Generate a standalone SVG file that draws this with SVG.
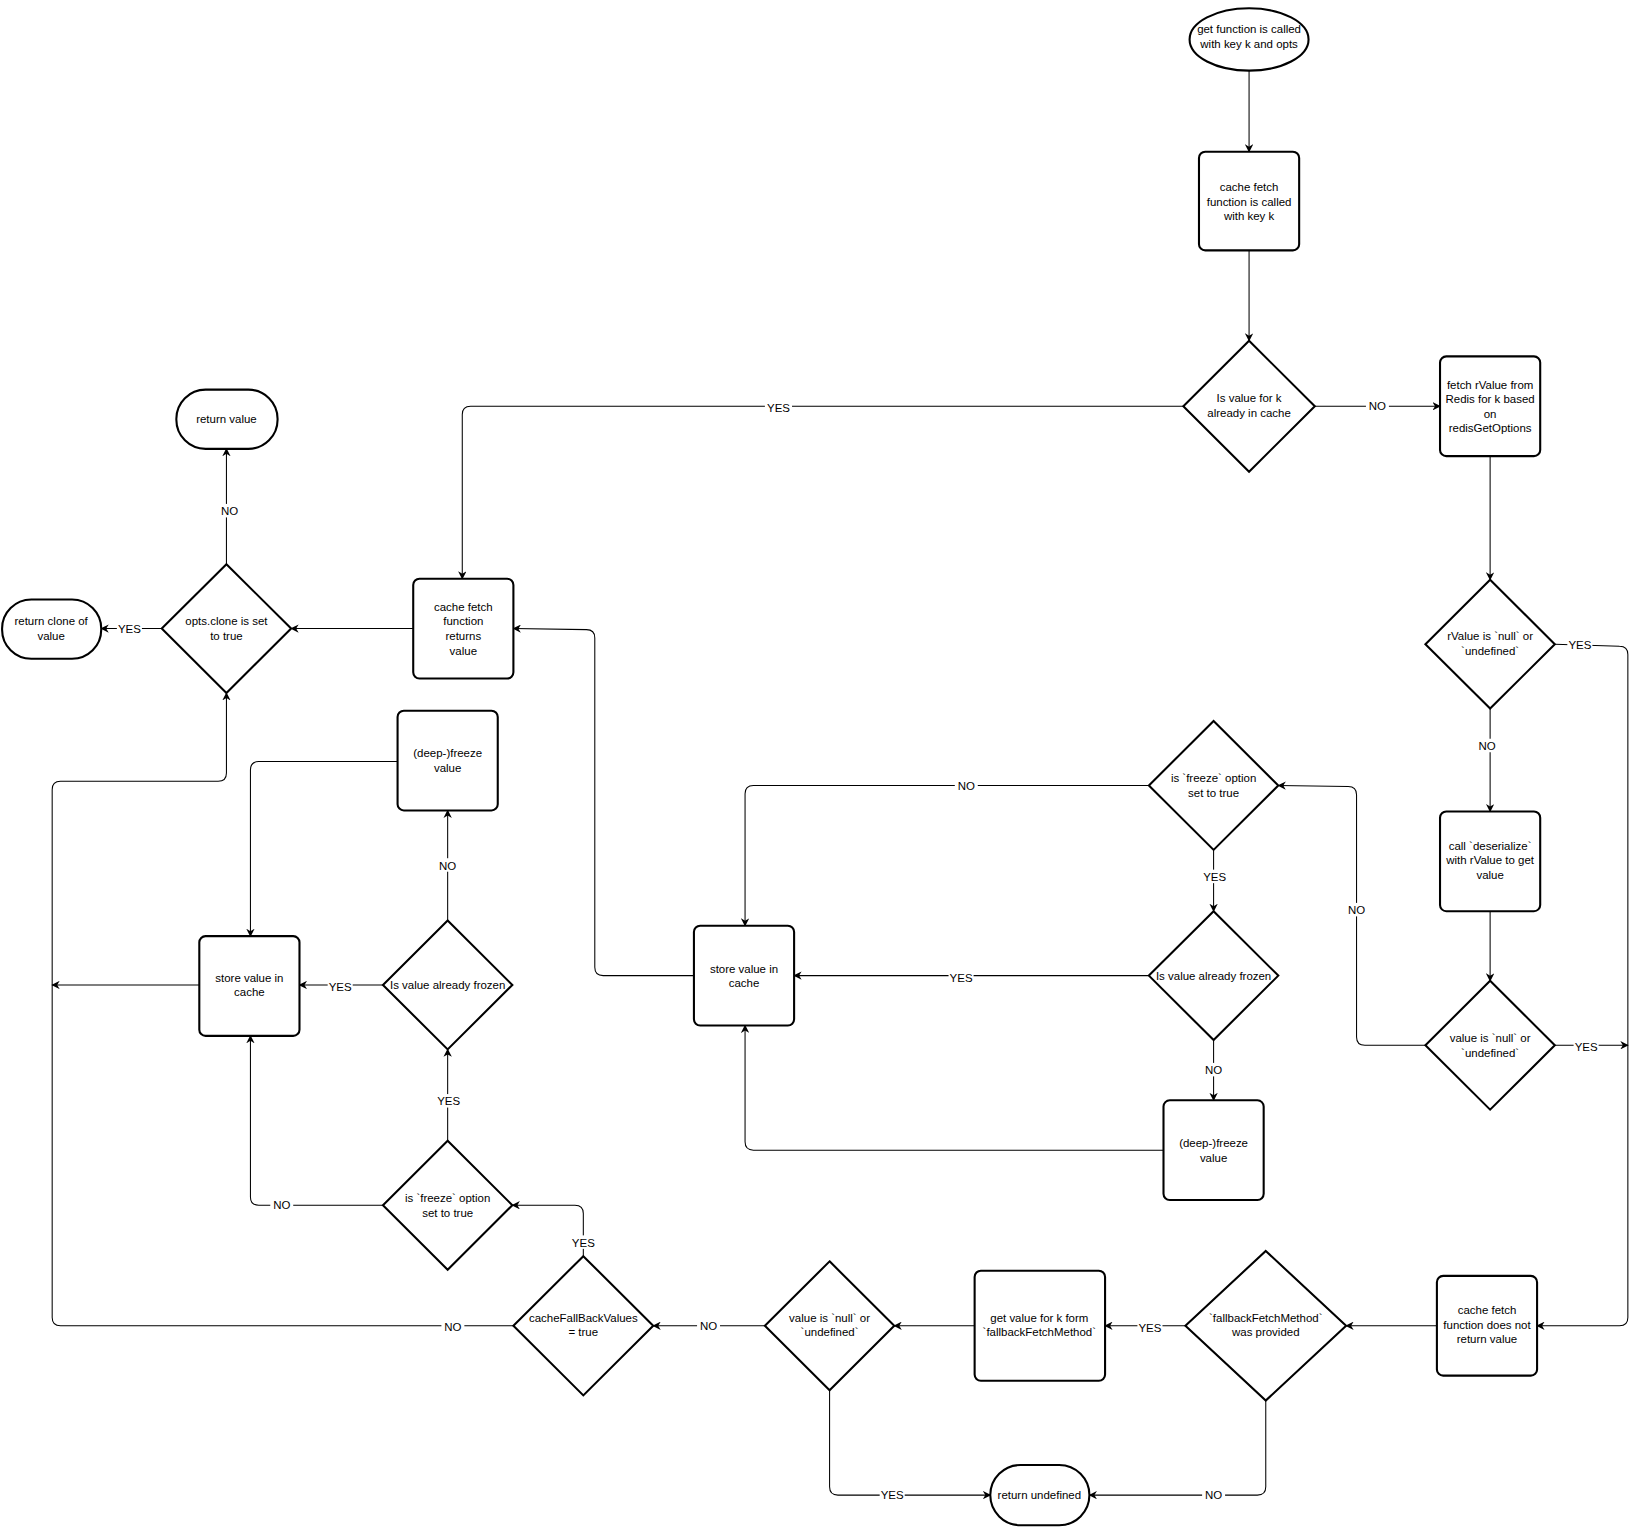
<svg xmlns="http://www.w3.org/2000/svg" width="1630" height="1527" viewBox="0 0 1630 1527">
<defs>
<marker id="a" viewBox="0 0 10 10" refX="9" refY="5" markerWidth="8" markerHeight="8" orient="auto" markerUnits="userSpaceOnUse"><path d="M0,0 L10,5 L0,10 L3,5 Z" fill="#000"/></marker>
<style>
.s{fill:#fff;stroke:#000;stroke-width:2}
.e{fill:none;stroke:#000;stroke-width:1;marker-end:url(#a)}
.n{fill:none;stroke:#000;stroke-width:1}
text{font-family:"Liberation Sans",Arial,sans-serif;font-size:11px;text-anchor:middle;fill:#000}
.lb{fill:#fff}
</style>
</defs>
<rect width="1630" height="1527" fill="#fff"/>
<g transform="scale(1.0435 1.039)">
<g id="connectors">
<path class="e" d="M1197,68 L1197,146"/>
<path class="e" d="M1197,241 L1197,328"/>
<path class="e" d="M1260,391 L1380,391"/>
<path class="e" d="M1134,391 L451,391 Q443,391 443,399 L443,557"/>
<path class="e" d="M1428,439 L1428,558"/>
<path class="e" d="M1490,620 L1552,622 Q1560,622 1560,630 L1560,1268 Q1560,1276 1552,1276 L1473,1276"/>
<path class="e" d="M1428,682 L1428,781"/>
<path class="e" d="M1428,877 L1428,944"/>
<path class="e" d="M1490,1006 L1560,1006"/>
<path class="e" d="M1366,1006 L1308,1006 Q1300,1006 1300,998 L1300,765 Q1300,757 1292,757 L1225,756"/>
<path class="e" d="M1377,1276 L1290,1276"/>
<path class="e" d="M1136,1276 L1059,1276"/>
<path class="e" d="M1213,1348 L1213,1431 Q1213,1439 1205,1439 L1044,1439"/>
<path class="e" d="M934,1276 L857,1276"/>
<path class="e" d="M733,1276 L626,1276"/>
<path class="e" d="M795,1338 L795,1431 Q795,1439 803,1439 L949,1439"/>
<path class="e" d="M492,1276 L58,1276 Q50,1276 50,1268 L50,760 Q50,752 58,752 L209,752 Q217,752 217,744 L217,667"/>
<path class="e" d="M559,1209 L559,1168 Q559,1160 551,1160 L491,1160"/>
<path class="e" d="M367,1160 L248,1160 Q240,1160 240,1152 L240,997"/>
<path class="e" d="M429,1098 L429,1010"/>
<path class="e" d="M367,948 L287,948"/>
<path class="e" d="M429,886 L429,780"/>
<path class="e" d="M381,733 L248,733 Q240,733 240,741 L240,901"/>
<path class="e" d="M191,948 L50,948"/>
<path class="e" d="M396,605 L279,605"/>
<path class="e" d="M155,605 L97,605"/>
<path class="e" d="M217,543 L217,432"/>
<path class="e" d="M665,939 L578,939 Q570,939 570,931 L570,614 Q570,606 562,606 L492,605"/>
<path class="e" d="M1101,756 L722,756 Q714,756 714,764 L714,891"/>
<path class="e" d="M1163,818 L1163,877"/>
<path class="e" d="M1101,939 L761,939"/>
<path class="e" d="M1163,1001 L1163,1059"/>
<path class="e" d="M1115,1107 L722,1107 Q714,1107 714,1099 L714,987"/>
<g id="labels">
<rect class="lb" x="1309" y="384" width="22" height="13"/><text x="1320" y="395">NO</text>
<rect class="lb" x="733" y="386" width="26" height="13"/><text x="746" y="397">YES</text>
<rect class="lb" x="1502" y="615" width="24" height="13"/><text x="1514" y="625">YES</text>
<rect class="lb" x="1414" y="711" width="22" height="13"/><text x="1425" y="722">NO</text>
<rect class="lb" x="1508" y="1001" width="24" height="13"/><text x="1520" y="1012">YES</text>
<rect class="lb" x="1289" y="869" width="22" height="13"/><text x="1300" y="880">NO</text>
<rect class="lb" x="1090" y="1271" width="24" height="13"/><text x="1102" y="1282">YES</text>
<rect class="lb" x="1152" y="1432" width="22" height="13"/><text x="1163" y="1443">NO</text>
<rect class="lb" x="668" y="1269" width="22" height="13"/><text x="679" y="1280">NO</text>
<rect class="lb" x="843" y="1432" width="24" height="13"/><text x="855" y="1443">YES</text>
<rect class="lb" x="423" y="1270" width="22" height="13"/><text x="434" y="1281">NO</text>
<rect class="lb" x="547" y="1189" width="24" height="13"/><text x="559" y="1200">YES</text>
<rect class="lb" x="259" y="1153" width="22" height="13"/><text x="270" y="1164">NO</text>
<rect class="lb" x="418" y="1053" width="24" height="13"/><text x="430" y="1064">YES</text>
<rect class="lb" x="314" y="943" width="24" height="13"/><text x="326" y="954">YES</text>
<rect class="lb" x="418" y="826" width="22" height="13"/><text x="429" y="837">NO</text>
<rect class="lb" x="112" y="598" width="24" height="13"/><text x="124" y="609">YES</text>
<rect class="lb" x="209" y="485" width="22" height="13"/><text x="220" y="496">NO</text>
<rect class="lb" x="915" y="749" width="22" height="13"/><text x="926" y="760">NO</text>
<rect class="lb" x="1152" y="837" width="24" height="13"/><text x="1164" y="848">YES</text>
<rect class="lb" x="909" y="934" width="24" height="13"/><text x="921" y="945">YES</text>
<rect class="lb" x="1152" y="1023" width="22" height="13"/><text x="1163" y="1034">NO</text>
</g>
</g>
<g id="start"><ellipse class="s" cx="1197" cy="38" rx="57" ry="30"/><text x="1197" y="32">get function is called</text><text x="1197" y="46">with key k and opts</text></g>
<g id="r1"><rect class="s" x="1149" y="146" width="96" height="95" rx="6"/><text x="1197" y="184">cache fetch</text><text x="1197" y="198">function is called</text><text x="1197" y="212">with key k</text></g>
<g id="d1"><path class="s" d="M1197,328 L1260,391 L1197,454 L1134,391 Z"/><text x="1197" y="387">Is value for k</text><text x="1197" y="401">already in cache</text></g>
<g id="r2"><rect class="s" x="1380" y="343" width="96" height="96" rx="6"/><text x="1428" y="374">fetch rValue from</text><text x="1428" y="388">Redis for k based</text><text x="1428" y="402">on</text><text x="1428" y="416">redisGetOptions</text></g>
<g id="d2"><path class="s" d="M1428,558 L1490,620 L1428,682 L1366,620 Z"/><text x="1428" y="616">rValue is `null` or</text><text x="1428" y="630">`undefined`</text></g>
<g id="r3"><rect class="s" x="1380" y="781" width="96" height="96" rx="6"/><text x="1428" y="818">call `deserialize`</text><text x="1428" y="832">with rValue to get</text><text x="1428" y="846">value</text></g>
<g id="d3"><path class="s" d="M1428,944 L1490,1006 L1428,1068 L1366,1006 Z"/><text x="1428" y="1003">value is `null` or</text><text x="1428" y="1017">`undefined`</text></g>
<g id="r4"><rect class="s" x="1377" y="1228" width="96" height="96" rx="6"/><text x="1425" y="1265">cache fetch</text><text x="1425" y="1279">function does not</text><text x="1425" y="1293">return value</text></g>
<g id="d4"><path class="s" d="M1213,1204 L1290,1276 L1213,1348 L1136,1276 Z"/><text x="1213" y="1272">`fallbackFetchMethod`</text><text x="1213" y="1286">was provided</text></g>
<g id="r5"><rect class="s" x="934" y="1223" width="125" height="106" rx="6"/><text x="996" y="1272">get value for k form</text><text x="996" y="1286">`fallbackFetchMethod`</text></g>
<g id="d5"><path class="s" d="M795,1214 L857,1276 L795,1338 L733,1276 Z"/><text x="795" y="1272">value is `null` or</text><text x="795" y="1286">`undefined`</text></g>
<g id="t1"><rect class="s" x="949" y="1410" width="95" height="58" rx="29"/><text x="996" y="1443">return undefined</text></g>
<g id="d6"><path class="s" d="M559,1209 L626,1276 L559,1343 L492,1276 Z"/><text x="559" y="1272">cacheFallBackValues</text><text x="559" y="1286">= true</text></g>
<g id="d7"><path class="s" d="M429,1098 L491,1160 L429,1222 L367,1160 Z"/><text x="429" y="1157">is `freeze` option</text><text x="429" y="1171">set to true</text></g>
<g id="d8"><path class="s" d="M429,886 L491,948 L429,1010 L367,948 Z"/><text x="429" y="952">Is value already frozen</text></g>
<g id="r6"><rect class="s" x="381" y="684" width="96" height="96" rx="6"/><text x="429" y="729">(deep-)freeze</text><text x="429" y="743">value</text></g>
<g id="r7"><rect class="s" x="191" y="901" width="96" height="96" rx="6"/><text x="239" y="945">store value in</text><text x="239" y="959">cache</text></g>
<g id="d9"><path class="s" d="M217,543 L279,605 L217,667 L155,605 Z"/><text x="217" y="602">opts.clone is set</text><text x="217" y="616">to true</text></g>
<g id="t2"><rect class="s" x="169" y="375" width="97" height="57" rx="28"/><text x="217" y="407">return value</text></g>
<g id="t3"><rect class="s" x="2" y="577" width="95" height="57" rx="28"/><text x="49" y="602">return clone of</text><text x="49" y="616">value</text></g>
<g id="r8"><rect class="s" x="396" y="557" width="96" height="96" rx="6"/><text x="444" y="588">cache fetch</text><text x="444" y="602">function</text><text x="444" y="616">returns</text><text x="444" y="630">value</text></g>
<g id="r9"><rect class="s" x="665" y="891" width="96" height="96" rx="6"/><text x="713" y="936">store value in</text><text x="713" y="950">cache</text></g>
<g id="d10"><path class="s" d="M1163,694 L1225,756 L1163,818 L1101,756 Z"/><text x="1163" y="753">is `freeze` option</text><text x="1163" y="767">set to true</text></g>
<g id="d11"><path class="s" d="M1163,877 L1225,939 L1163,1001 L1101,939 Z"/><text x="1163" y="943">Is value already frozen</text></g>
<g id="r10"><rect class="s" x="1115" y="1059" width="96" height="96" rx="6"/><text x="1163" y="1104">(deep-)freeze</text><text x="1163" y="1118">value</text></g>
</g>
</svg>
